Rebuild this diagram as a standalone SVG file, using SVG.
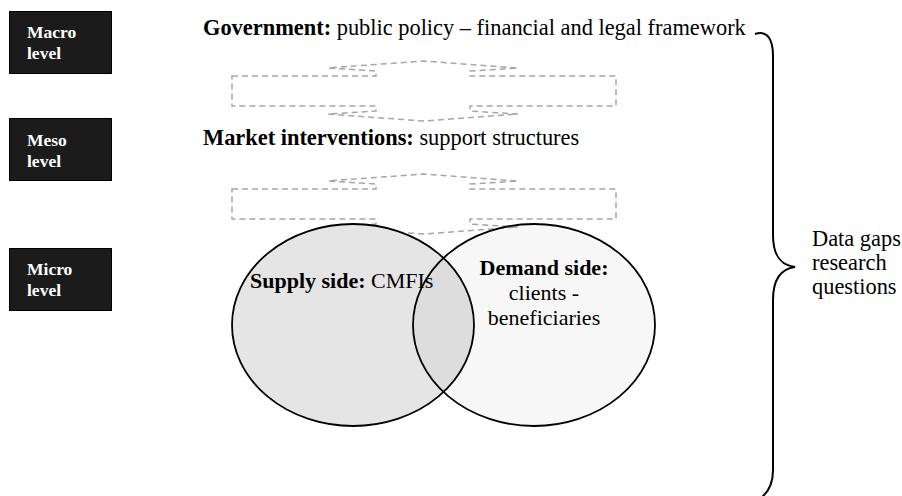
<svg xmlns="http://www.w3.org/2000/svg" width="902" height="496" viewBox="0 0 902 496">
  <style>
    .lvl rect { fill: #1b1b1b; stroke: #000; stroke-width: 1; }
    .lvl text { font-family: "Liberation Serif", "Times New Roman", serif; font-weight: bold; font-size: 17.5px; fill: #fff; }
    .t { font-family: "Liberation Serif", "Times New Roman", serif; font-size: 22.4px; fill: #000; }
    .s { font-size: 22px; }
    .b { font-weight: bold; }
    .arrow { fill: none; stroke: #a6a6a6; stroke-width: 1.5; stroke-dasharray: 6 4; }
    .venn { stroke: #000; stroke-width: 1.8; }
    .brace { fill: none; stroke: #000; stroke-width: 2; }
  </style>
  <defs>
    <path id="updown" d="M232,76 L376,76 L376,71 L328,68 L423,61 L518,68 L470,71 L470,76 L616,76 L616,106 L470,106 L470,111 L518,114 L423,121 L328,114 L376,111 L376,106 L232,106 Z"/>
  </defs>

  <rect width="902" height="496" fill="#fff"/>

  <!-- level labels -->
  <g id="macro" class="lvl">
    <rect x="9.5" y="11.5" width="102" height="62"/>
    <text x="27" y="38">Macro</text>
    <text x="27" y="59">level</text>
  </g>
  <g id="meso" class="lvl">
    <rect x="9.5" y="118.5" width="102" height="62"/>
    <text x="27" y="146">Meso</text>
    <text x="27" y="167">level</text>
  </g>
  <g id="micro" class="lvl">
    <rect x="9.5" y="248.5" width="102" height="62"/>
    <text x="27" y="275">Micro</text>
    <text x="27" y="296">level</text>
  </g>

  <!-- tiers -->
  <g id="government">
    <text class="t" x="203" y="35"><tspan class="b">Government:</tspan> public policy – financial and legal framework</text>
  </g>
  <g id="market">
    <text class="t" x="203" y="145"><tspan class="b">Market interventions:</tspan> support structures</text>
  </g>

  <!-- two-way links between tiers -->
  <g id="connectors">
    <use href="#updown" class="arrow"/>
    <use href="#updown" class="arrow" transform="translate(0,113)"/>
  </g>

  <!-- supply / demand overlap -->
  <g id="supply">
    <ellipse class="venn" cx="353" cy="325" rx="121" ry="101" fill="#e5e5e5"/>
  </g>
  <g id="demand">
    <ellipse class="venn" cx="534" cy="325" rx="121" ry="101" fill="#000" fill-opacity="0.03"/>
  </g>
  <g id="supply-label">
    <text class="t s" x="250" y="288"><tspan class="b">Supply side:</tspan> CMFIs</text>
  </g>
  <g id="demand-label" text-anchor="middle">
    <text x="544" y="275" class="t s b">Demand side:</text>
    <text x="544" y="300" class="t s">clients -</text>
    <text x="544" y="325" class="t s">beneficiaries</text>
  </g>

  <!-- brace across all levels -->
  <g id="brace">
    <path class="brace" d="M755,34 C768,30 773,40 773,56 L773,235 C773,255 780,265 795,267 C780,269 773,280 773,300 L773,470 C773,485 768,492 762,497"/>
    <text class="t" x="812" y="246">Data gaps</text>
    <text class="t" x="812" y="270">research</text>
    <text class="t" x="812" y="294">questions</text>
  </g>
</svg>
